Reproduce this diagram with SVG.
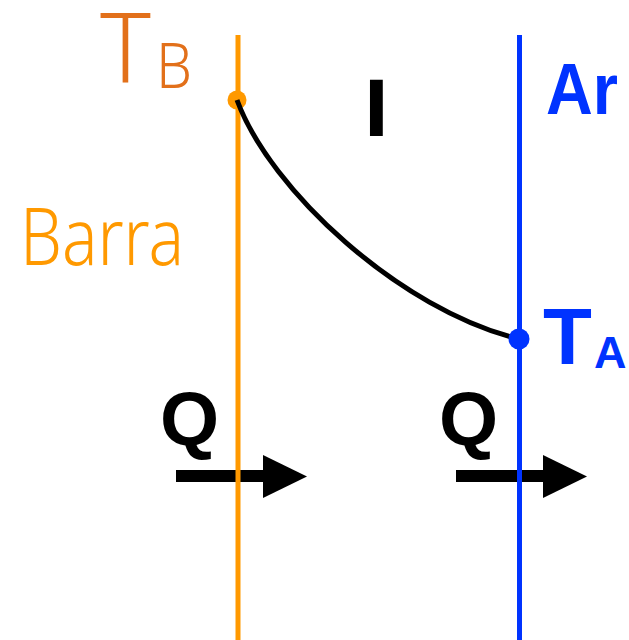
<svg xmlns="http://www.w3.org/2000/svg" width="629" height="640" viewBox="0 0 629 640">
  <style>
    .bold { font-family: "Liberation Sans", Arial, sans-serif; font-weight: bold; }
    .light { font-family: "Noto Sans", "Open Sans", "Liberation Sans", sans-serif; font-weight: 300; }
    .orange { fill: #FF9900; }
    .dkorange { fill: #E2701A; }
    .blue { fill: #0033FF; }
    .arrow { fill: #000000; }
  </style>
  <rect width="629" height="640" fill="#FFFFFF"/>

  <g id="arrows">
    <g id="arrow-left">
      <rect x="176" y="470" width="89" height="12" class="arrow"/>
      <polygon points="263,455 307,476.5 263,498" class="arrow"/>
    </g>
    <g id="arrow-right">
      <rect x="456" y="470" width="89" height="12" class="arrow"/>
      <polygon points="543,455 587,476.5 543,498" class="arrow"/>
    </g>
  </g>

  <g id="bar-line">
    <line x1="238" y1="35" x2="238" y2="640" stroke="#FF9900" stroke-width="5"/>
  </g>
  <g id="air-line">
    <line x1="519.5" y1="35" x2="519.5" y2="640" stroke="#0033FF" stroke-width="5"/>
  </g>

  <g id="connectors">
    <circle cx="237" cy="100" r="9.5" fill="#FF9900"/>
    <path d="M237,100 C270,190 400,310 519,339" fill="none" stroke="#000000" stroke-width="5"/>
    <circle cx="519" cy="339" r="10.5" fill="#0033FF"/>
  </g>

  <g id="label-TB">
    <text x="100" y="83" class="light dkorange" font-size="98" textLength="51" lengthAdjust="spacingAndGlyphs">T</text>
    <text x="156" y="88" class="light dkorange" font-size="63" textLength="36" lengthAdjust="spacingAndGlyphs">B</text>
  </g>
  <g id="label-Barra">
    <text x="20" y="265" class="light orange" font-size="79" textLength="164" lengthAdjust="spacingAndGlyphs">Barra</text>
  </g>
  <g id="label-I">
    <text transform="translate(376.5,136) scale(1.1,1)" text-anchor="middle" class="bold" font-size="81" fill="#000000">I</text>
  </g>
  <g id="label-Ar">
    <text x="546" y="114" class="bold blue" font-size="72" textLength="72" lengthAdjust="spacingAndGlyphs">Ar</text>
  </g>
  <g id="label-TA">
    <text x="543" y="364" class="bold blue" font-size="80">T</text>
    <text x="594" y="368" class="bold blue" font-size="45">A</text>
  </g>
  <g id="label-Q-left">
    <text x="160" y="445" class="bold" font-size="76" fill="#000000">Q</text>
  </g>
  <g id="label-Q-right">
    <text x="439" y="445" class="bold" font-size="76" fill="#000000">Q</text>
  </g>
</svg>
